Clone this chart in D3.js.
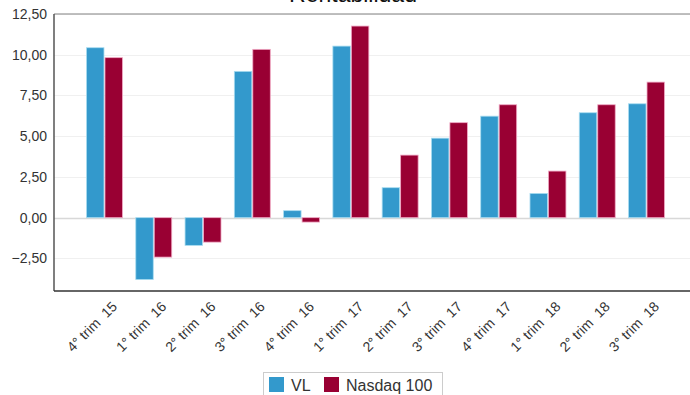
<!DOCTYPE html>
<html><head><meta charset="utf-8">
<script src="https://cdn.jsdelivr.net/npm/d3@7"></script>
<style>body{margin:0;background:#fff;}svg{display:block;font-family:"Liberation Sans",Arial,sans-serif;}</style>
</head><body><svg id="c" width="690" height="395"></svg>
<script>
const categories = ["4° trim  15","1° trim  16","2° trim  16","3° trim  16","4° trim  16","1° trim  17","2° trim  17","3° trim  17","4° trim  17","1° trim  18","2° trim  18","3° trim  18"];
const seriesNames = ["VL","Nasdaq 100"];
const vlValues = [10.43,-3.80,-1.70,8.98,0.43,10.53,1.84,4.88,6.23,1.49,6.44,6.99];
const nasdaqValues = [9.82,-2.42,-1.50,10.33,-0.27,11.76,3.84,5.83,6.93,2.86,6.93,8.32];
const yTicks = [-2.5,0,2.5,5,7.5,10,12.5];
const colors = ["#3399cc","#990033"];
const strokes = ["#a8dcf0","#f0a8c4"];

const svg = d3.select("#c");
const pL = 54, pR = 690, pT = 14, pB = 291;
const y = d3.scaleLinear().domain([-4.5,12.5]).range([pB, pT]);
const x = d3.scaleBand().domain(categories).range([86,665]).paddingInner(0.25).paddingOuter(0);
const xs = d3.scaleBand().domain(seriesNames).range([0, x.bandwidth()]);
const fmt = v => d3.format(".2f")(v).replace(".", ",");

// title (cut off at the top, as in the reference)
svg.append("text").attr("x",353).attr("y",2).attr("text-anchor","middle")
  .attr("font-size",23).attr("fill","#111").text("Rentabilidad");

// gridlines
svg.append("g").selectAll("line").data(yTicks).join("line")
  .attr("x1",pL).attr("x2",pR).attr("y1",d=>Math.round(y(d))+0.5).attr("y2",d=>Math.round(y(d))+0.5)
  .attr("stroke",d=>d===0?"#d8d8d8":"#f0f0f0").attr("stroke-width",d=>d===0?1.5:1);

// top border
svg.append("line").attr("x1",pL).attr("x2",pR).attr("y1",pT).attr("y2",pT)
  .attr("stroke","#aaaaaa").attr("stroke-width",1.5);

// y axis
const yAxis = d3.axisLeft(y).tickValues(yTicks).tickFormat(fmt).tickSize(0).tickPadding(7);
const ga = svg.append("g").attr("transform",`translate(${pL},0)`).call(yAxis);
ga.select(".domain").remove();
ga.selectAll("text").attr("font-size",14).attr("fill","#333").attr("font-family","'Liberation Sans',Arial,sans-serif");

// bars
const data = categories.map((c,i)=>({c, vals:[vlValues[i], nasdaqValues[i]]}));
const groups = svg.append("g").selectAll("g").data(data).join("g")
  .attr("transform",d=>`translate(${x(d.c)},0)`);
groups.selectAll("rect").data(d=>d.vals.map((v,j)=>({v,j}))).join("rect")
  .attr("x",d=>xs(seriesNames[d.j])+0.5)
  .attr("width",xs.bandwidth()-1)
  .attr("y",d=>y(Math.max(0,d.v)))
  .attr("height",d=>Math.abs(y(d.v)-y(0)))
  .attr("fill",d=>colors[d.j])
  .attr("stroke",d=>strokes[d.j]).attr("stroke-width",0.8);

// axes lines
svg.append("line").attr("x1",pL).attr("x2",pL).attr("y1",pT).attr("y2",pB)
  .attr("stroke","#555").attr("stroke-width",1.5);
svg.append("line").attr("x1",pL).attr("x2",pR).attr("y1",pB).attr("y2",pB)
  .attr("stroke","#333").attr("stroke-width",1.5);

// x labels
const xAxis = d3.axisBottom(x).tickSize(0).tickPadding(0);
const gx = svg.append("g").attr("transform",`translate(0,${pB})`).call(xAxis);
gx.select(".domain").remove();
gx.selectAll("text").attr("font-size",14).attr("fill","#333")
  .attr("font-family","'Liberation Sans',Arial,sans-serif")
  .attr("text-anchor","end").attr("dy","0.35em")
  .attr("transform","translate(10,13) rotate(-45)").style("white-space","pre")
  .attr("xml:space","preserve");

// legend
const lg = svg.append("g");
lg.append("rect").attr("x",263.5).attr("y",372.5).attr("width",179).attr("height",30)
  .attr("fill","#fff").attr("stroke","#cccccc");
const litems = [{n:"VL",sx:269,tx:291},{n:"Nasdaq 100",sx:324,tx:346}];
litems.forEach((it,i)=>{
  lg.append("rect").attr("x",it.sx).attr("y",377).attr("width",15).attr("height",15).attr("fill",colors[i]);
  lg.append("text").attr("x",it.tx).attr("y",391).attr("font-size",16).attr("fill","#333").text(it.n);
});
</script></body></html>
